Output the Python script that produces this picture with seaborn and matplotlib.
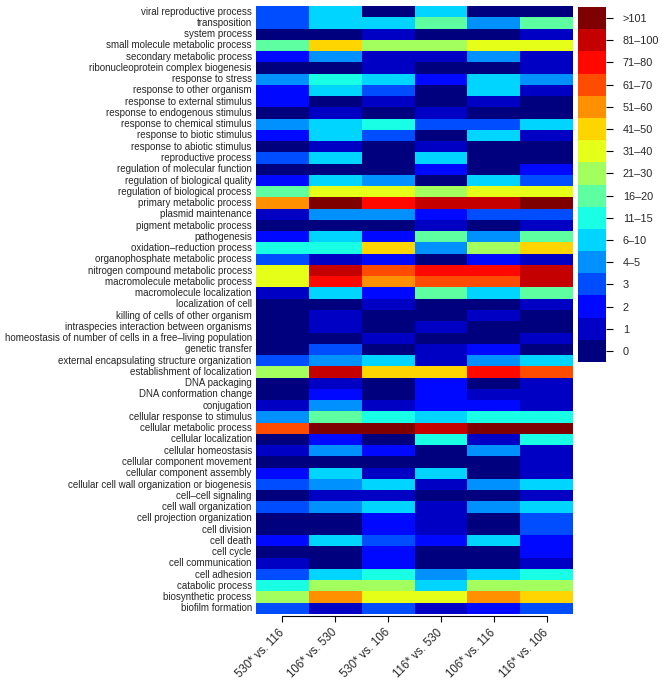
import numpy as np
import pandas as pd
import matplotlib
matplotlib.use("Agg")
import matplotlib.pyplot as plt
from matplotlib.colors import ListedColormap
import seaborn as sns

sns.set_style("white")
plt.rcParams['font.family'] = ['Liberation Sans', 'DejaVu Sans']

processes = [
    "viral reproductive process", "transposition", "system process",
    "small molecule metabolic process", "secondary metabolic process",
    "ribonucleoprotein complex biogenesis", "response to stress",
    "response to other organism", "response to external stimulus",
    "response to endogenous stimulus", "response to chemical stimulus",
    "response to biotic stimulus", "response to abiotic stimulus",
    "reproductive process", "regulation of molecular function",
    "regulation of biological quality", "regulation of biological process",
    "primary metabolic process", "plasmid maintenance",
    "pigment metabolic process", "pathogenesis", "oxidation\u2013reduction process",
    "organophosphate metabolic process", "nitrogen compound metabolic process",
    "macromolecule metabolic process", "macromolecule localization",
    "localization of cell", "killing of cells of other organism",
    "intraspecies interaction between organisms",
    "homeostasis of number of cells in a free\u2013living population",
    "genetic transfer", "external encapsulating structure organization",
    "establishment of localization", "DNA packaging", "DNA conformation change",
    "conjugation", "cellular response to stimulus", "cellular metabolic process",
    "cellular localization", "cellular homeostasis",
    "cellular component movement", "cellular component assembly",
    "cellular cell wall organization or biogenesis", "cell\u2013cell signaling",
    "cell wall organization", "cell projection organization", "cell division",
    "cell death", "cell cycle", "cell communication", "cell adhesion",
    "catabolic process", "biosynthetic process", "biofilm formation",
]

comparisons = ["530* vs. 116", "106* vs. 530", "530* vs. 106",
               "116* vs. 530", "106* vs. 116", "116* vs. 106"]

# category index per cell (0 = "0", ..., 15 = ">101")
c_530_116 = [3, 3, 0, 7, 2, 0, 4, 2, 2, 0, 4, 2, 0, 3, 0, 2, 7, 11, 1, 0, 2, 6, 3, 9, 9, 1, 0,
             0, 0, 0, 0, 3, 8, 0, 0, 1, 4, 12, 0, 1, 0, 2, 3, 0, 3, 0, 0, 2, 0, 1, 3, 6, 8, 3]
c_106_530 = [5, 5, 0, 10, 4, 0, 6, 5, 0, 1, 5, 5, 1, 5, 0, 5, 9, 15, 4, 0, 5, 6, 1, 14, 13, 5, 0,
             1, 1, 0, 3, 4, 14, 1, 2, 4, 7, 15, 2, 4, 0, 5, 4, 1, 4, 0, 0, 5, 0, 0, 5, 8, 11, 1]
c_530_106 = [0, 5, 1, 8, 1, 1, 5, 3, 1, 0, 6, 3, 0, 0, 0, 4, 9, 13, 4, 0, 2, 10, 2, 12, 11, 2, 1,
             0, 0, 1, 0, 5, 10, 0, 0, 1, 6, 15, 0, 2, 0, 1, 5, 1, 5, 2, 2, 3, 2, 2, 6, 8, 9, 3]
c_116_530 = [5, 7, 0, 8, 1, 0, 2, 0, 0, 1, 3, 0, 1, 5, 2, 0, 8, 14, 2, 1, 7, 4, 0, 13, 12, 7, 0,
             0, 1, 0, 1, 1, 10, 2, 2, 2, 5, 14, 6, 0, 0, 5, 1, 0, 1, 1, 1, 2, 0, 0, 4, 5, 9, 1]
c_106_116 = [0, 4, 0, 9, 4, 0, 5, 5, 1, 0, 3, 5, 0, 0, 0, 5, 9, 14, 3, 0, 4, 8, 2, 13, 12, 5, 0,
             1, 0, 0, 2, 4, 13, 0, 1, 2, 6, 15, 1, 4, 0, 0, 4, 0, 4, 0, 0, 5, 0, 0, 5, 8, 11, 2]
c_116_106 = [0, 7, 1, 9, 1, 1, 4, 1, 0, 0, 5, 1, 0, 0, 2, 3, 9, 15, 3, 1, 7, 10, 1, 14, 14, 7, 1,
             0, 0, 1, 0, 5, 12, 1, 1, 1, 6, 15, 6, 1, 1, 1, 5, 1, 5, 3, 3, 2, 2, 1, 6, 8, 10, 3]

legend_labels = ["0", "1", "2", "3", "4\u20135", "6\u201310", "11\u201315", "16\u201320",
                 "21\u201330", "31\u201340", "41\u201350", "51\u201360", "61\u201370",
                 "71\u201380", "81\u2013100", ">101"]

colors = ["#00007F", "#0000C4", "#0008FF", "#004CFF", "#0091FF", "#00D5FF",
          "#19FFE5", "#5DFFA1", "#A2FF5D", "#E5FF19", "#FFD500", "#FF9100",
          "#FF4C00", "#FF0800", "#C40000", "#7F0000"]
cmap = ListedColormap(colors)

df = pd.DataFrame({comparisons[0]: c_530_116, comparisons[1]: c_106_530,
                   comparisons[2]: c_530_106, comparisons[3]: c_116_530,
                   comparisons[4]: c_106_116, comparisons[5]: c_116_106},
                  index=processes)

W, H = 667, 685
fig = plt.figure(figsize=(W / 100, H / 100), dpi=100)
ax = fig.add_axes([256 / W, 1 - 614 / H, 317 / W, 608 / H])
cax = fig.add_axes([578 / W, 1 - 362 / H, 28 / W, 355 / H])

sns.heatmap(df, ax=ax, cmap=cmap, vmin=-0.5, vmax=15.5, cbar=True, cbar_ax=cax,
            linewidths=0, xticklabels=True, yticklabels=True)

# y labels: no ticks, right-aligned next to the map
ax.tick_params(axis='y', left=False, length=0, pad=3, labelsize=7.0)
ax.tick_params(axis='x', bottom=True, direction='out', length=4.5, width=0.8,
               pad=6, labelsize=8.3, color='black')
for s in ['top', 'right', 'left']:
    ax.spines[s].set_visible(False)
ax.spines['bottom'].set_visible(True)
ax.spines['bottom'].set_bounds(0.5, 5.5)
ax.spines['bottom'].set_position(('outward', 1.5))
ax.spines['bottom'].set_linewidth(0.8)
ax.spines['bottom'].set_color('black')
plt.setp(ax.get_xticklabels(), rotation=45, ha='right', va='center',
         rotation_mode='anchor')
for lbl in ax.get_yticklabels():
    lbl.set_rotation(0)

# colorbar
cbar = ax.collections[0].colorbar
cbar.set_ticks(np.arange(16))
cbar.set_ticklabels(legend_labels)
cbar.outline.set_visible(False)
cax.tick_params(right=True, length=5, width=0.8, pad=7, labelsize=7.8, color='black')

fig.savefig("out.png", dpi=100)
